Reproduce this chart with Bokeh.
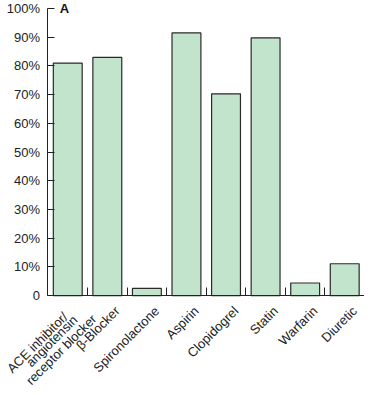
import math
from bokeh.plotting import figure
from bokeh.models import FixedTicker, Range1d, Label
from bokeh.embed import file_html
from bokeh.resources import INLINE

categories = ["ACE inhibitor/\nangiotensin\nreceptor blocker", "β-Blocker", "Spironolactone",
              "Aspirin", "Clopidogrel", "Statin", "Warfarin", "Diuretic"]
values = [81, 83, 2.5, 91.5, 70.3, 89.8, 4.4, 11.1]
y_ticks = [0, 10, 20, 30, 40, 50, 60, 70, 80, 90, 100]
y_tick_labels = ["0", "10%", "20%", "30%", "40%", "50%", "60%", "70%", "80%", "90%", "100%"]

FONT = "Liberation Sans"
n = len(categories)
centers = [i + 0.5 for i in range(n)]

p = figure(width=364, height=387, output_backend="svg", toolbar_location=None,
           x_range=Range1d(-1.2, n), y_range=Range1d(-32.0, 102.8),
           min_border_left=0, min_border_right=0, min_border_top=0, min_border_bottom=0)
p.outline_line_color = None
p.grid.visible = False
p.background_fill_color = "white"
p.border_fill_color = "white"

p.vbar(x=centers, top=values, width=0.73, bottom=0,
       fill_color="#c2e3cc", line_color="#2a2a2a", line_width=1.2)

# y axis placed at x = 0; tick labels drawn as annotations
ya = p.yaxis[0]
ya.fixed_location = 0
ya.ticker = FixedTicker(ticks=y_ticks, minor_ticks=[])
ya.bounds = (0, 100)
ya.major_label_overrides = {t: "" for t in y_ticks}
ya.major_label_text_font_size = "0px"
ya.major_label_standoff = 0
ya.major_tick_in = 7
ya.major_tick_out = 0
ya.major_tick_line_color = "#222222"
ya.axis_line_color = "#222222"

for t, lab in zip(y_ticks, y_tick_labels):
    p.add_layout(Label(x=0, y=t, text=lab, x_offset=-8, text_align="right",
                       text_baseline="middle", text_font=FONT, text_font_size="13px",
                       text_color="#222222"))

# x axis placed at y = 0; category labels drawn as rotated annotations
xa = p.xaxis[0]
xa.fixed_location = 0
xa.bounds = (0, n)
xa.ticker = FixedTicker(ticks=centers, minor_ticks=[float(i) for i in range(1, n)])
xa.major_label_overrides = {c: "" for c in centers}
xa.major_label_text_font_size = "0px"
xa.major_label_standoff = 0
xa.major_tick_line_color = None
xa.major_tick_in = 0
xa.major_tick_out = 0
xa.minor_tick_in = 8
xa.minor_tick_out = 0
xa.minor_tick_line_color = "#222222"
xa.axis_line_color = "#222222"

ang = math.pi / 4
for c, lab in zip(centers, categories):
    lines = lab.split("\n")
    if len(lines) == 1:
        p.add_layout(Label(x=c, y=0, text=lines[0], angle=ang, x_offset=10, y_offset=-13,
                           text_align="right", text_baseline="middle",
                           text_font=FONT, text_font_size="13px", text_color="#222222"))
    else:
        offs = [(-58.5, -75), (-39.5, -69), (-39.5, -87)]
        for line, (dx, dy) in zip(lines, offs):
            p.add_layout(Label(x=c, y=0, text=line, angle=ang, x_offset=dx, y_offset=dy,
                               text_align="left", text_baseline="alphabetic",
                               text_font=FONT, text_font_size="13px", text_color="#222222"))

p.add_layout(Label(x=0.3, y=100, text="A", text_font=FONT, text_font_size="13px",
                   text_font_style="bold", text_baseline="middle", text_color="#111111"))

open("out.html", "w").write(file_html(p, INLINE))
